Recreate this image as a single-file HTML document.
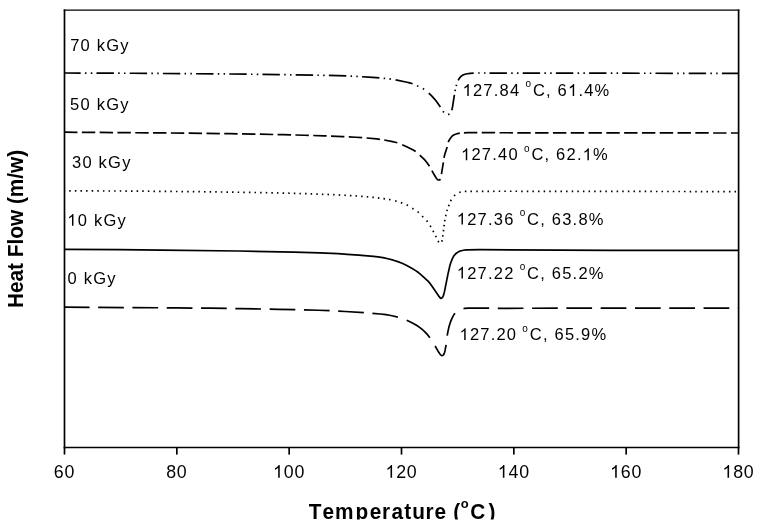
<!DOCTYPE html>
<html><head><meta charset="utf-8"><style>
html,body{margin:0;padding:0;background:#fff;width:761px;height:530px;overflow:hidden}
svg{display:block;will-change:transform}
text{font-family:"Liberation Sans",sans-serif;fill:#000}
.tk{font-size:17.8px;letter-spacing:0.8px}
.lb{font-size:16.5px;letter-spacing:1.23px}
.an{font-size:16.5px;letter-spacing:1.21px}
.sup{font-size:10px}
.ax{font-size:20.8px;font-weight:bold}
.ay{font-size:20.8px;font-weight:bold}
.supax{font-size:13px;font-weight:bold}
.h{fill-opacity:0}
path{fill:none;stroke:#000;stroke-width:1.7px;stroke-linejoin:round}
</style></head><body>
<svg width="761" height="530" viewBox="0 0 761 530">
<defs><path id="one" d="M763 0L583 0L583 1147Q518 1085 412 1023Q307 961 223 930L223 1104Q374 1175 487 1276Q600 1377 647 1472L763 1472Z" style="fill:#000;stroke:none"/><clipPath id="cx"><rect x="0" y="490" width="761" height="29.6"/></clipPath></defs>
<line x1="64.5" y1="9.6" x2="64.5" y2="448.3" stroke="#000" stroke-width="1.7"/>
<line x1="738.6" y1="9.6" x2="738.6" y2="448.3" stroke="#000" stroke-width="1.7"/>
<line x1="63.7" y1="447.5" x2="739.4" y2="447.5" stroke="#000" stroke-width="1.5"/>
<line x1="63.7" y1="10.2" x2="739.4" y2="10.2" stroke="#000" stroke-width="1.3"/>
<line x1="64.50" y1="447.5" x2="64.50" y2="454.6" stroke="#000" stroke-width="1.7"/>
<line x1="176.83" y1="447.5" x2="176.83" y2="454.6" stroke="#000" stroke-width="1.7"/>
<line x1="289.17" y1="447.5" x2="289.17" y2="454.6" stroke="#000" stroke-width="1.7"/>
<line x1="401.50" y1="447.5" x2="401.50" y2="454.6" stroke="#000" stroke-width="1.7"/>
<line x1="513.83" y1="447.5" x2="513.83" y2="454.6" stroke="#000" stroke-width="1.7"/>
<line x1="626.17" y1="447.5" x2="626.17" y2="454.6" stroke="#000" stroke-width="1.7"/>
<line x1="738.50" y1="447.5" x2="738.50" y2="454.6" stroke="#000" stroke-width="1.7"/>
<text x="64.50" y="477.8" text-anchor="middle" class="tk">60</text>
<text x="176.83" y="477.8" text-anchor="middle" class="tk">80</text>
<text x="289.17" y="477.8" text-anchor="middle" class="tk"><tspan class="h">1</tspan>00</text>
<text x="401.50" y="477.8" text-anchor="middle" class="tk"><tspan class="h">1</tspan>20</text>
<text x="513.83" y="477.8" text-anchor="middle" class="tk"><tspan class="h">1</tspan>40</text>
<text x="626.17" y="477.8" text-anchor="middle" class="tk"><tspan class="h">1</tspan>60</text>
<text x="738.50" y="477.8" text-anchor="middle" class="tk"><tspan class="h">1</tspan>80</text>
<path d="M64.50 73.00L132.41 73.26L230.71 74.00L278.73 74.58L326.97 75.41L338.06 75.67L347.18 75.99L356.93 76.44L368.41 77.10L376.15 77.62L383.19 78.24L389.42 78.89L394.38 79.58" stroke-dasharray="17.4 4.3 1.5 4.3 1.5 4.2" stroke-dashoffset="1.22"/>
<path d="M487.20 73.08L533.00 73.07L738.50 73.40" stroke-dasharray="17.4 4.3 1.5 4.3 1.5 4.2" stroke-dashoffset="30.90"/>
<path d="M395.60 79.80L405.85 82.00L409.60 82.93L412.60 83.80M428.80 93.10L432.13 96.38L435.00 99.60L437.24 102.53L440.40 107.10M451.70 110.30L452.18 108.52L452.66 106.06L454.40 94.90M458.10 80.40L458.69 79.32L459.34 78.36L460.79 76.58L461.70 75.80L462.98 75.08L465.00 74.30L467.16 73.76L470.29 73.37L473.71 73.18M417.02 85.68L418.38 86.32M422.87 88.50L424.13 89.30M442.90 111.24L443.90 112.36M448.12 114.62L449.48 113.98M455.05 91.13L455.35 89.67M456.20 86.12L456.60 84.68M478.15 73.01L479.65 72.99M484.05 73.00L485.55 73.00"/>
<path d="M64.50 132.20L164.05 132.94L230.03 133.68L253.98 134.07L282.71 134.68L304.66 135.25L324.04 135.87L342.40 136.58L355.62 137.24L365.05 137.88L376.81 138.92L380.40 139.37L384.00 139.95L392.64 141.65L395.22 142.23L397.56 142.86L399.00 143.34L400.77 144.07" stroke-dasharray="13.4 4.4" stroke-dashoffset="0.45"/>
<path d="M462.13 132.86L467.69 132.70L477.06 132.66L517.35 132.80L738.50 133.00" stroke-dasharray="13.4 4.4" stroke-dashoffset="16.00"/>
<path d="M402.20 144.70L406.69 146.76L412.25 149.51L414.06 150.47L415.70 151.50M419.80 155.20L423.18 158.32L425.00 160.20L427.25 162.97L429.50 166.20M431.90 170.70L433.95 174.30L436.19 177.93L436.78 178.80L437.39 179.48L437.70 179.70L438.32 179.93L438.95 179.99L439.50 179.90L440.05 179.62L440.50 179.10M441.46 174.04L443.38 162.44M444.10 157.94L444.37 155.99L444.72 154.58L447.20 147.00M448.24 142.16L448.63 141.18L449.42 139.78L451.28 137.12L452.40 135.90L453.63 135.07L455.50 134.20L457.61 133.55L459.80 133.10"/>
<path d="M64.50 190.90L128.95 191.04L206.69 191.79L254.13 192.48L281.45 193.04L303.73 193.61L321.02 194.19L338.03 194.92L348.95 195.49L364.82 196.54L372.49 197.28L384.95 198.86L389.87 199.62L393.47 200.43" stroke-dasharray="1.5 4.115" stroke-dashoffset="0.87"/>
<path d="M473.63 191.28L515.38 191.27L738.50 191.60" stroke-dasharray="1.5 4.115" stroke-dashoffset="2.98"/>
<path d="M395.18 200.90L396.62 201.30M400.90 202.64L402.30 203.16M406.63 204.86L407.97 205.54M412.26 208.20L413.54 209.00M417.62 211.63L418.78 212.57M422.18 216.06L423.22 217.14M426.63 220.62L427.57 221.78M430.11 225.66L430.89 226.94M432.95 230.74L433.65 232.06M435.57 235.83L436.23 237.17M437.89 241.05L438.91 242.15M441.64 241.56L442.36 240.24M442.70 236.54L442.90 235.06M443.41 231.44L443.59 229.96M444.01 226.34L444.19 224.86M444.68 221.34L444.92 219.86M445.64 216.23L445.96 214.77M446.88 211.12L447.32 209.68M448.54 206.20L449.06 204.80M450.54 201.06L451.26 199.74M454.04 195.80L455.16 194.80M459.19 192.54L460.61 192.06M464.85 191.46L466.35 191.34M470.45 191.30L471.95 191.30"/>
<path d="M64.50 249.40L119.45 249.65L161.57 250.06L238.53 251.01L294.01 252.06L319.76 252.84L338.02 253.68L347.36 254.28L358.70 255.14L373.53 256.42L377.90 256.89L382.91 257.70L387.91 258.76L393.38 260.19L397.81 261.62L402.09 263.32L406.77 265.52L411.29 267.97L415.65 270.64L417.66 272.03L419.74 273.70L426.11 279.29L428.30 281.40L429.73 283.10L432.20 286.43L439.22 296.65L440.25 297.92L440.62 298.26L441.00 298.40L441.45 298.27L441.93 297.91L442.40 297.43L443.03 296.51L443.56 295.11L444.57 291.15L448.22 272.95L449.70 266.43L450.22 264.41L450.83 262.46L452.39 258.60L453.32 256.78L454.12 255.57L455.49 254.01L456.70 252.97L458.44 251.84L459.84 251.18L461.31 250.71L463.44 250.28L465.92 249.94L468.24 249.79L479.67 249.66L611.40 250.29L738.50 250.30"/>
<path d="M64.50 307.20L177.18 307.89L210.22 308.22L240.46 308.64L278.81 309.31L301.68 309.79L318.17 310.27L332.02 310.81L345.31 311.50L369.63 313.10L380.32 314.01L386.00 314.70L389.63 315.28L393.16 315.96L398.01 317.15L402.44 318.60" stroke-dasharray="25.7 8.6" stroke-dashoffset="0.64"/>
<path d="M459.87 309.74L461.64 309.02L462.79 308.74L464.59 308.44L468.17 308.14L472.59 308.04L497.17 308.30L563.54 308.20L738.50 308.20" stroke-dasharray="25.7 8.6" stroke-dashoffset="30.48"/>
<path d="M406.70 320.30L410.51 321.99L413.78 323.65L416.91 325.53L419.92 327.62L422.77 329.89L425.37 332.32L427.72 334.93L429.90 337.70M435.10 346.00L437.93 350.95L439.61 353.54L440.20 354.29L441.00 355.07L441.50 355.44L442.00 355.60L442.52 355.50L443.04 355.21L443.50 354.80L444.01 353.96L444.60 352.20L445.07 350.42L446.10 344.90M447.20 335.60L447.92 331.57L448.69 328.06L449.45 325.18L450.41 322.17L451.50 319.38L452.83 316.61L453.84 314.85L455.00 313.30"/>
<text x="70.16" y="50.6" class="lb">70 kGy</text>
<text x="70.04" y="109.8" class="lb">50 kGy</text>
<text x="71.97" y="168" class="lb">30 kGy</text>
<text x="67.30" y="225.8" class="lb"><tspan class="h">1</tspan>0 kGy</text>
<text x="67.46" y="283.7" class="lb">0 kGy</text>
<text x="462.60" y="95.9" class="an"><tspan class="h">1</tspan>27.84 <tspan class="sup" dx="-0.7" dy="-8.5">o</tspan><tspan dx="0.7" dy="8.5">C, 6<tspan class="h">1</tspan>.4%</tspan></text>
<text x="461.10" y="160.2" class="an"><tspan class="h">1</tspan>27.40 <tspan class="sup" dx="-0.7" dy="-8.5">o</tspan><tspan dx="0.7" dy="8.5">C, 62.<tspan class="h">1</tspan>%</tspan></text>
<text x="456.80" y="224.6" class="an"><tspan class="h">1</tspan>27.36 <tspan class="sup" dx="-0.7" dy="-8.5">o</tspan><tspan dx="0.7" dy="8.5">C, 63.8%</tspan></text>
<text x="456.80" y="278.6" class="an"><tspan class="h">1</tspan>27.22 <tspan class="sup" dx="-0.7" dy="-8.5">o</tspan><tspan dx="0.7" dy="8.5">C, 65.2%</tspan></text>
<text x="459.50" y="340.1" class="an"><tspan class="h">1</tspan>27.20 <tspan class="sup" dx="-0.7" dy="-8.5">o</tspan><tspan dx="0.7" dy="8.5">C, 65.9%</tspan></text>
<g clip-path="url(#cx)"><text x="308.87 322.59 335.03 355.43 369.79 382.03 391.49 404.15 412.31 425.63 434.59 446.20 453.36" y="0" transform="translate(0,518.8) scale(1,1.05)" class="ax">Temperature (</text><text x="460.69" y="508.4" class="supax">o</text><text x="470.35 488.58" y="0" transform="translate(0,518.8) scale(1,1.05)" class="ax">C)</text></g>
<text class="ay" text-anchor="middle" transform="translate(22.8,228.9) rotate(-90) scale(1,1.05)">Heat Flow (m/w)</text>
<use href="#one" transform="translate(273.12,477.80) scale(0.008691,-0.008691)"/>
<use href="#one" transform="translate(385.45,477.80) scale(0.008691,-0.008691)"/>
<use href="#one" transform="translate(497.78,477.80) scale(0.008691,-0.008691)"/>
<use href="#one" transform="translate(610.12,477.80) scale(0.008691,-0.008691)"/>
<use href="#one" transform="translate(722.45,477.80) scale(0.008691,-0.008691)"/>
<use href="#one" transform="translate(67.30,225.80) scale(0.008057,-0.008057)"/>
<use href="#one" transform="translate(462.60,95.90) scale(0.008057,-0.008057)"/>
<use href="#one" transform="translate(568.02,95.90) scale(0.008057,-0.008057)"/>
<use href="#one" transform="translate(461.10,160.20) scale(0.008057,-0.008057)"/>
<use href="#one" transform="translate(582.71,160.20) scale(0.008057,-0.008057)"/>
<use href="#one" transform="translate(456.80,224.60) scale(0.008057,-0.008057)"/>
<use href="#one" transform="translate(456.80,278.60) scale(0.008057,-0.008057)"/>
<use href="#one" transform="translate(459.50,340.10) scale(0.008057,-0.008057)"/>
</svg>
</body></html>
